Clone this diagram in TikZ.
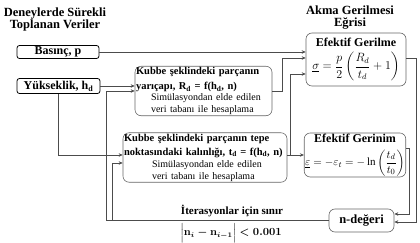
\documentclass[tikz,border=0pt]{standalone}
\usepackage{amsmath}
\usepackage{fontspec}
\setmainfont{Liberation Serif}
\usetikzlibrary{arrows.meta}
\newcommand{\simtxt}[1]{{\fontsize{10}{11}\selectfont\mdseries #1}}

\begin{document}
\begin{tikzpicture}[x=1pt, y=1pt, >={Stealth[length=4pt,width=3.5pt]},
  every node/.style={font=\fontsize{10.5}{15}\selectfont\bfseries},
  inbox/.style={draw=black, line width=0.8pt, rounded corners=2.5pt, inner sep=1pt,
    font=\fontsize{12}{14}\selectfont\bfseries},
  calcbox/.style={draw=gray!80!black, line width=0.6pt, rounded corners=6pt, inner sep=1pt},
  flow/.style={->, draw=gray!60!black, line width=0.6pt},
  ttl/.style={align=center, font=\fontsize{12.5}{12}\selectfont\bfseries}]
  \useasboundingbox (0,0) rectangle (420,243);

  % Titles
  \node[ttl] (ttlL) at (55,224) {Deneylerde Sürekli\\Toplanan Veriler};
  \node[ttl] (ttlR) at (350,225) {Akma Gerilmesi\\Eğrisi};

  % Measured data
  \node[inbox, minimum width=82, minimum height=13] (basinc) at (58,191) {Basınç, p};
  \node[inbox, minimum width=83, minimum height=15] (yuks) at (58.5,157) {Yükseklik, h\textsubscript{d}};

  % Simulation look-ups
  \node[calcbox, align=left, text width=135] (rbox) at (203.5,152)
    {Kubbe şeklindeki parçanın\\
     yarıçapı, R\textsubscript{d} = f(h\textsubscript{d}, n)\\[-4pt]
     \hspace*{15pt}\simtxt{Simülasyondan elde edilen}\\[-3pt]
     \hspace*{15pt}\simtxt{veri tabanı ile hesaplama}};
  \node[calcbox, align=left, text width=162] (tbox) at (205,85.5)
    {Kubbe şeklindeki parçanın tepe\\[-1pt]
     noktasındaki kalınlığı, t\textsubscript{d} = f(h\textsubscript{d}, n)\\[-3pt]
     \hspace*{28pt}\simtxt{Simülasyondan elde edilen}\\[-3pt]
     \hspace*{28pt}\simtxt{veri tabanı ile hesaplama}};

  % Flow curve
  \node[calcbox, align=center, minimum width=100, minimum height=53, font=\fontsize{12}{14}\selectfont\bfseries] (gerilme) at (356,183.5)
    {Efektif Gerilme\\[5pt] {\fontsize{11.5}{13}\selectfont$\underline{\sigma}=\dfrac{p}{2}\left(\dfrac{R_d}{t_d}+1\right)$}};
  \node[calcbox, align=center, minimum width=100, minimum height=44, font=\fontsize{12}{14}\selectfont\bfseries] (gerinim) at (355,88)
    {Efektif Gerinim\\[6pt] {\fontsize{11}{13}\selectfont$\underline{\varepsilon}=-\varepsilon_t=-\ln\left(\dfrac{t_d}{t_0}\right)$}};
  \node[calcbox, font=\fontsize{12.5}{14}\selectfont\bfseries, minimum width=65, minimum height=23] (ndeger) at (361.5,22.5) {n-değeri};

  % Iteration limit
  \node[font=\fontsize{11}{13}\selectfont\bfseries] (iterlbl) at (232,32) {İterasyonlar için sınır};
  \node[inner sep=1pt, font=\fontsize{10.5}{12}\selectfont] (iterlim) at (231,10)
    {{\boldmath$\Bigl\vert\mathbf{n}_i-\mathbf{n}_{i-1}\Bigr\vert<\mathbf{0.001}$}};

  \coordinate (fb1) at (106,0);
  \coordinate (fb2) at (112,0);

  % Connectors
  \draw[flow] (basinc.east) -- (basinc.east -| gerilme.west);
  \draw[flow] (yuks.east) -- (yuks.east -| rbox.west);
  \draw[flow] (yuks.south) |- ([yshift=2.5]tbox.west);
  \draw[flow] (rbox.east) -- ++(10,0) |- ([yshift=1.5]gerilme.west);
  \draw[flow] (tbox.east |- gerinim.west) -- (gerinim.west);
  \draw[flow] ([xshift=3]tbox.east |- gerinim.west) |- ([yshift=-14.5]gerilme.west);
  \draw[flow] ([yshift=1.5]gerilme.east) -- ++(10,0) |- ([yshift=-1.5]ndeger.east);
  \draw[flow] ([yshift=7]gerinim.east) -- ++(3,0) |- ([yshift=6.5]ndeger.east);
  \draw[flow] (ndeger.west) -| (fb1 |- rbox.west) -- (rbox.west);
  \draw[flow] (fb2 |- ndeger.west) |- ([yshift=-5.5]tbox.west);
\end{tikzpicture}
\end{document}
